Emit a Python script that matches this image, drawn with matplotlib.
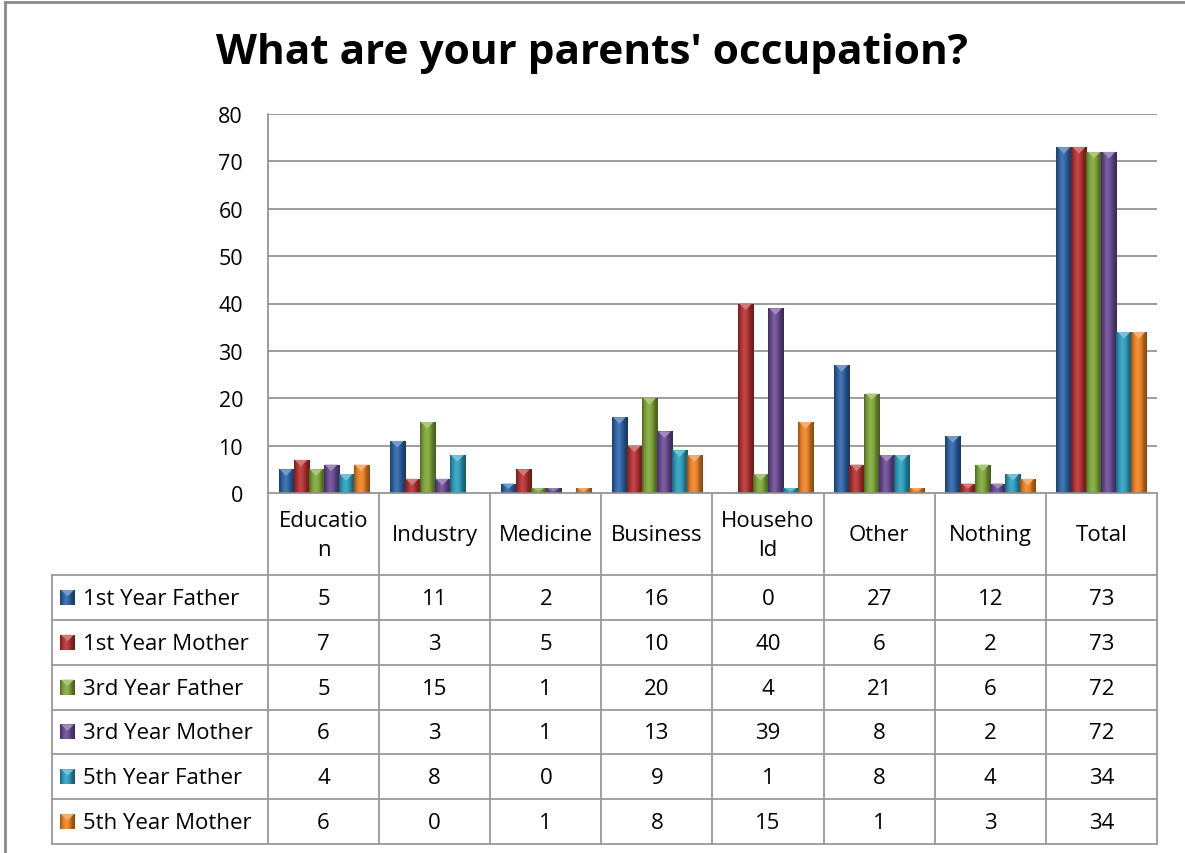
import matplotlib
matplotlib.use("Agg")
import matplotlib.pyplot as plt
import numpy as np
from matplotlib.colors import LinearSegmentedColormap, to_rgb
from matplotlib.patches import Rectangle, Polygon
from matplotlib.lines import Line2D

plt.rcParams['font.family'] = ['Open Sans', 'DejaVu Sans']

title = "What are your parents' occupation?"
categories = ["Education", "Industry", "Medicine", "Business", "Household", "Other", "Nothing", "Total"]
header_labels = ["Educatio\nn", "Industry", "Medicine", "Business", "Househo\nld", "Other", "Nothing", "Total"]
series_names = ["1st Year Father", "1st Year Mother", "3rd Year Father",
                "3rd Year Mother", "5th Year Father", "5th Year Mother"]
first_father = [5, 11, 2, 16, 0, 27, 12, 73]
first_mother = [7, 3, 5, 10, 40, 6, 2, 73]
third_father = [5, 15, 1, 20, 4, 21, 6, 72]
third_mother = [6, 3, 1, 13, 39, 8, 2, 72]
fifth_father = [4, 8, 0, 9, 1, 8, 4, 34]
fifth_mother = [6, 0, 1, 8, 15, 1, 3, 34]
series_values = [first_father, first_mother, third_father, third_mother, fifth_father, fifth_mother]
y_ticks = [0, 10, 20, 30, 40, 50, 60, 70, 80]

base_colors = ['#2F65A7', '#B73333', '#80A83B', '#6B4C95', '#2EA0C0', '#EE8426']

W, H = 1185, 854
fig = plt.figure(figsize=(W / 100, H / 100), dpi=100)
fig.patch.set_facecolor('white')

def shade(c, f):
    r = np.array(to_rgb(c))
    if f < 1:
        return tuple(r * f)
    return tuple(r + (1 - r) * (f - 1))

def bevel_cmap(c):
    return LinearSegmentedColormap.from_list(
        'b', [shade(c, 0.62), shade(c, 0.95), shade(c, 1.12), shade(c, 1.0), shade(c, 0.7), shade(c, 0.55)])

grad = np.linspace(0, 1, 64).reshape(1, -1)

# outer border
fig.add_artist(Line2D([5 / W, 5 / W], [0, 1 - 3 / H], color='#8a8a8a', lw=2, transform=fig.transFigure))
fig.add_artist(Line2D([5 / W, 1], [1 - 3 / H, 1 - 3 / H], color='#8a8a8a', lw=2, transform=fig.transFigure))

fig.text(592 / W, 1 - 64 / H, title, ha='center', va='baseline', fontsize=30.5, fontweight='bold', color='black')

# main plot
L, R, T, B = 268, 1157, 115, 494
ax = fig.add_axes([L / W, 1 - B / H, (R - L) / W, (B - T) / H])
x = np.arange(len(categories))
n = len(series_names)
bw = 0.135
grid_c = '#8c8c8c'
for yv in y_ticks[1:]:
    ax.axhline(yv, color=grid_c, lw=1.2, zorder=0)

for i, (vals, c) in enumerate(zip(series_values, base_colors)):
    bars = ax.bar(x + (i - (n - 1) / 2) * bw, vals, width=bw, color=c, zorder=2, linewidth=0)
    cm = bevel_cmap(c)
    for p, v in zip(bars, vals):
        if v <= 0:
            continue
        x0, w, h = p.get_x(), p.get_width(), p.get_height()
        im = ax.imshow(grad, cmap=cm, extent=[x0, x0 + w, 0, h], aspect='auto', zorder=3, interpolation='bilinear')
        im.set_clip_path(p)
        d = min(1.4, h * 0.55)
        tri = Polygon([[x0 + w * 0.08, h], [x0 + w * 0.92, h], [x0 + w / 2, h - d]], closed=True,
                      facecolor=shade(c, 1.35), edgecolor='none', zorder=4)
        ax.add_patch(tri)

ax.set_xlim(-0.5, len(categories) - 0.5)
ax.set_ylim(0, 80)
ax.set_yticks(y_ticks)
ax.set_xticks([])
ax.tick_params(axis='y', length=0, pad=18, labelsize=15.5, colors='black')
for s in ['top', 'right', 'bottom']:
    ax.spines[s].set_visible(False)
ax.spines['left'].set_color(grid_c)
ax.spines['left'].set_linewidth(1.2)

# data table
TL, TB = 52, 845
unit = (R - L) / len(categories)
xl = -0.5 - (L - TL) / unit
tax = fig.add_axes([TL / W, 1 - TB / H, (R - TL) / W, (TB - B) / H])
tax.set_xlim(xl, len(categories) - 0.5)
tax.set_ylim(TB, B)
tax.axis('off')
tc = '#9a9a9a'
hdr_bottom = 576
row_h = (TB - hdr_bottom) / n
tax.plot([-0.5, len(categories) - 0.5], [B, B], color=grid_c, lw=1.2, clip_on=False)
for k in range(len(categories) + 1):
    tax.plot([k - 0.5, k - 0.5], [B, TB], color=tc, lw=1.3, clip_on=False)
tax.plot([xl, xl], [hdr_bottom, TB], color=tc, lw=1.3, clip_on=False)
for r in range(n + 1):
    yy = hdr_bottom + r * row_h
    tax.plot([xl, len(categories) - 0.5], [yy, yy], color=tc, lw=1.3, clip_on=False)

fs = 16
for k, lab in enumerate(header_labels):
    tax.text(k, (B + hdr_bottom) / 2 + 1, lab, ha='center', va='center', fontsize=fs,
             linespacing=1.55, color='black')

key = 15
for i, (name, vals, c) in enumerate(zip(series_names, series_values, base_colors)):
    yc = hdr_bottom + (i + 0.5) * row_h
    kx = xl + 8 / unit
    rect = Rectangle((kx, yc - key / 2), key / unit, key, facecolor=c, edgecolor='none')
    tax.add_patch(rect)
    im = tax.imshow(grad, cmap=bevel_cmap(c), extent=[kx, kx + key / unit, yc + key / 2, yc - key / 2],
                    aspect='auto', interpolation='bilinear', zorder=3)
    im.set_clip_path(rect)
    tax.add_patch(Polygon([[kx + 1 / unit, yc - key / 2], [kx + (key - 1) / unit, yc - key / 2],
                           [kx + key / 2 / unit, yc - 1]], closed=True, facecolor=shade(c, 1.35),
                          edgecolor='none', zorder=4))
    tax.text(xl + 31 / unit, yc + 1, name, ha='left', va='center', fontsize=fs, color='black')
    for k, v in enumerate(vals):
        tax.text(k, yc + 1, str(v), ha='center', va='center', fontsize=fs, color='black')

tax.set_xlim(xl, len(categories) - 0.5)
tax.set_ylim(TB, B)

fig.savefig('out.png', dpi=100, facecolor='white')
